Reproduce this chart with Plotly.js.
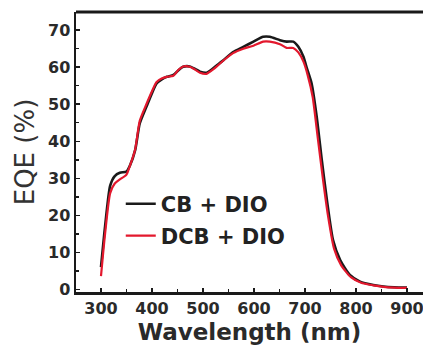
<!DOCTYPE html>
<html><head><meta charset="utf-8">
<script src="https://cdn.plot.ly/plotly-3.0.1.min.js"></script>
<style>html,body{margin:0;padding:0;background:#fff}#chart{width:423px;height:352px}</style>
</head><body><div id="chart"></div>
<script>
const seriesNames = ["CB + DIO", "DCB + DIO"];
const cbWavelength = [300,308,318,327,337,350,357,367,376,389,400,409,420,429,442,452,461,474,485,494,507,520,530,540,559,579,599,618,631,651,664,677,687,697,703,713,723,733,743,755,769,788,808,834,854,875,900];
const cbEQE = [6,17,28,30.6,31.5,31.8,33.5,37.6,44.8,49.3,53,55.6,56.8,57.4,57.9,59.2,60.1,60.2,59.5,58.8,58.5,59.7,60.8,61.9,64.1,65.5,66.9,68.2,68.2,67.3,66.9,66.9,65.5,62.8,60,55.6,46.6,34.9,24.1,13.3,7.9,3.9,2.1,1.2,0.8,0.6,0.5];
const dcbWavelength = [300,308,318,327,337,350,357,367,376,389,400,409,420,429,442,452,461,474,485,494,507,520,530,540,559,579,599,618,631,651,664,677,687,697,705,715,725,735,745,757,771,790,810,834,854,875,900];
const dcbEQE = [3.6,15,26,28.6,29.7,31,33.5,37.8,45.5,50,53.5,56,57,57.4,57.7,59.3,60.2,60.1,59.3,58.5,58.2,59.4,60.6,61.8,63.8,65,65.8,66.9,66.9,66.2,65.2,65.2,64,61.5,58,52,41,30,20,11,6.5,3.3,1.8,1.1,0.7,0.5,0.4];
const xTicks = [300,400,500,600,700,800,900];
const yTicks = [0,10,20,30,40,50,60,70];

const FONT = "DejaVu Sans";
const traces = [
  {x: cbWavelength, y: cbEQE, name: seriesNames[0], mode: "lines", line: {color: "#1a1a1a", width: 2.6, shape: "spline", smoothing: 0.6}, legend: "legend"},
  {x: dcbWavelength, y: dcbEQE, name: seriesNames[1], mode: "lines", line: {color: "#e3182d", width: 2.2, shape: "spline", smoothing: 0.6}, legend: "legend2"}
];
const axisCommon = {
  showgrid: false, zeroline: false, showline: true, linecolor: "#1a1a1a", linewidth: 2.5,
  ticks: "inside", ticklen: 4, tickwidth: 1.5, tickcolor: "#1a1a1a",
  ticklabeloverflow: "allow",
  tickfont: {family: FONT, size: 16, weight: 700, color: "#2a2a2a"}
};
const layout = {
  width: 423, height: 352,
  margin: {l: 76, r: 0, t: 12, b: 60},
  paper_bgcolor: "#fff", plot_bgcolor: "#fff",
  showlegend: true,
  xaxis: Object.assign({}, axisCommon, {
    range: [251, 931.4], tickvals: xTicks, ticktext: xTicks.map(String),
    minor: {dtick: 50, tick0: 250, ticks: "inside", ticklen: 3, tickwidth: 1.5, tickcolor: "#1a1a1a"},
    title: {text: "Wavelength (nm)", font: {family: FONT, size: 23, weight: "bold", color: "#2a2a2a"}, standoff: 7}
  }),
  yaxis: Object.assign({}, axisCommon, {
    range: [-0.7, 74.9], tickvals: yTicks, ticktext: yTicks.map(String),
    minor: {dtick: 5, tick0: 0, ticks: "inside", ticklen: 3, tickwidth: 1.5, tickcolor: "#1a1a1a"},
    title: {text: "EQE (%)", font: {family: FONT, size: 26, color: "#333"}, standoff: 6}
  }),
  shapes: [{type: "line", xref: "paper", yref: "paper", x0: 0, x1: 1, y0: 1, y1: 1, line: {color: "#1a1a1a", width: 3}}],
  legend: {x: 0.129, y: 0.314, xanchor: "left", yanchor: "middle", bgcolor: "rgba(0,0,0,0)", borderwidth: 0,
    font: {family: FONT, size: 21, weight: "bold", color: "#222"}},
  legend2: {x: 0.129, y: 0.2, xanchor: "left", yanchor: "middle", bgcolor: "rgba(0,0,0,0)", borderwidth: 0,
    font: {family: FONT, size: 21, weight: "bold", color: "#222"}}
};
Plotly.newPlot("chart", traces, layout, {displayModeBar: false, staticPlot: true});
</script></body></html>
